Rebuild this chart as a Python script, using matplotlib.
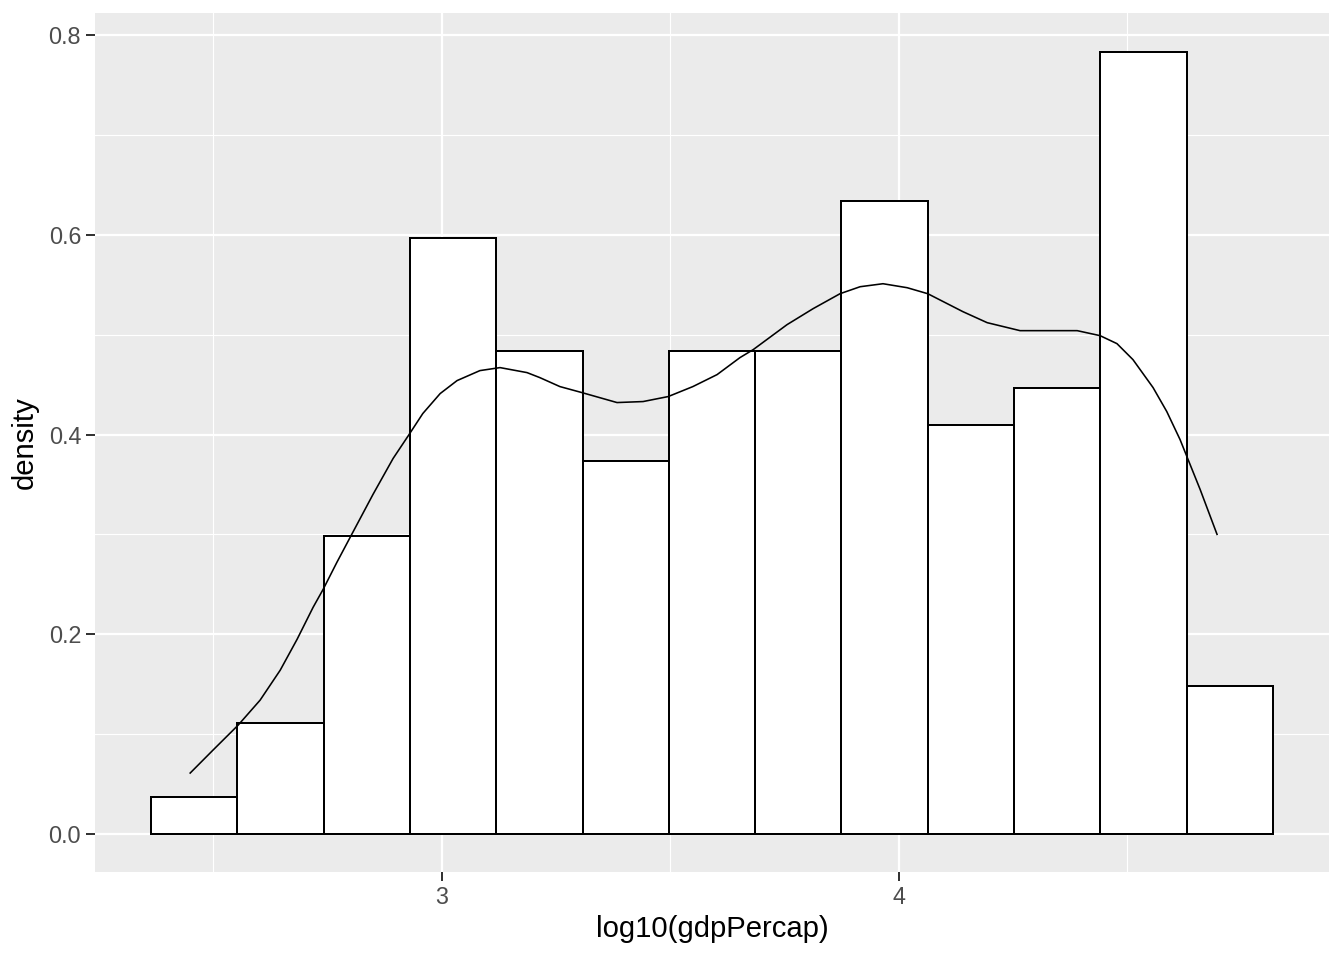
import matplotlib
matplotlib.use("Agg")
import matplotlib.pyplot as plt
import numpy as np

# Histogram data (density scale)
bin_start = 2.3632
bin_width = 0.18886
heights = [0.037, 0.111, 0.298, 0.597, 0.484, 0.373, 0.484, 0.484,
           0.634, 0.410, 0.447, 0.783, 0.148]

# Density curve points
kde_x = [2.449, 2.499, 2.554, 2.602, 2.646, 2.683, 2.718, 2.740, 2.770,
         2.799, 2.849, 2.893, 2.928, 2.958, 2.996, 3.033, 3.083, 3.127,
         3.186, 3.214, 3.258, 3.306, 3.383, 3.440, 3.495, 3.549, 3.602,
         3.652, 3.681, 3.755, 3.812, 3.871, 3.915, 3.965, 4.018, 4.063,
         4.140, 4.193, 4.265, 4.337, 4.390, 4.440, 4.477, 4.512, 4.556,
         4.586, 4.615, 4.659, 4.696]
kde_y = [0.061, 0.084, 0.109, 0.134, 0.164, 0.195, 0.227, 0.245, 0.272,
         0.297, 0.340, 0.376, 0.400, 0.421, 0.441, 0.454, 0.464, 0.467,
         0.462, 0.457, 0.448, 0.442, 0.432, 0.433, 0.438, 0.448, 0.460,
         0.477, 0.485, 0.510, 0.526, 0.541, 0.548, 0.551, 0.547, 0.541,
         0.523, 0.512, 0.504, 0.504, 0.504, 0.499, 0.491, 0.475, 0.447,
         0.423, 0.395, 0.345, 0.300]

x_ticks = [3, 4]
x_minor = [2.5, 3.5, 4.5]
y_ticks = [0.0, 0.2, 0.4, 0.6, 0.8]
y_minor = [0.1, 0.3, 0.5, 0.7]

plt.rcParams['font.family'] = ['Liberation Sans', 'DejaVu Sans']

fig = plt.figure(figsize=(1344/144, 960/144), dpi=144)
ax = fig.add_axes([95/1344, 1-872/960, (1329-95)/1344, (872-13)/960])
ax.set_facecolor('#EBEBEB')
for s in ax.spines.values():
    s.set_visible(False)

ax.set_xlim(2.2407, 4.941)
ax.set_ylim(-0.0381, 0.8221)

ax.set_xticks(x_ticks)
ax.set_xticklabels([str(t) for t in x_ticks])
ax.set_xticks(x_minor, minor=True)
ax.set_yticks(y_ticks)
ax.set_yticklabels([f"{t:.1f}" for t in y_ticks])
ax.set_yticks(y_minor, minor=True)

ax.grid(which='major', color='white', linewidth=1.1)
ax.grid(which='minor', color='white', linewidth=0.55)
ax.set_axisbelow(True)

ax.tick_params(which='major', length=4.5, width=1.0, color='#333333',
               labelcolor='#4D4D4D', labelsize=11.7, pad=2.5)
ax.tick_params(which='minor', length=0)

lefts = bin_start + bin_width * np.arange(len(heights))
ax.bar(lefts, heights, width=bin_width, align='edge', color='white',
       edgecolor='black', linewidth=1.0, zorder=2)
ax.plot(kde_x, kde_y, color='black', linewidth=0.8, zorder=3,
        solid_joinstyle='round')

ax.set_xlabel('log10(gdpPercap)', fontsize=14.6, color='black', labelpad=3)
ax.set_ylabel('density', fontsize=14.6, color='black', labelpad=5)

fig.savefig('out.png', dpi=144)
